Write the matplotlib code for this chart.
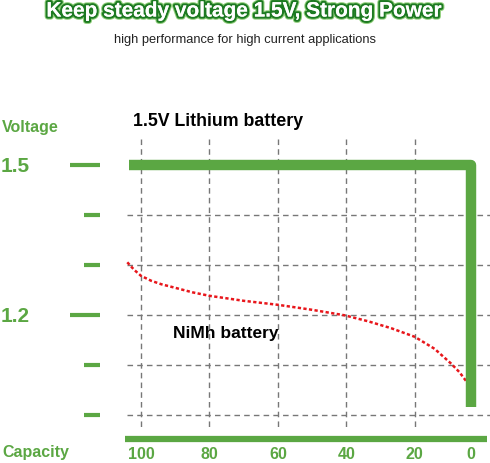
import numpy as np
import matplotlib
matplotlib.use('Agg')
import matplotlib.pyplot as plt
import matplotlib.patheffects as pe

plt.rcParams['font.family'] = ['Liberation Sans', 'DejaVu Sans']

GREEN = '#5ba743'
DARK_GREEN = '#1d7a22'

# data
volt_ticks = [1.5, 1.4, 1.3, 1.2, 1.1, 1.0]
volt_labels = ['1.5', '', '', '1.2', '', '']
cap_grid = [100, 80, 60, 40, 20]
cap_labels = ['100', '80', '60', '40', '20', '0']
cap_label_pos = [100, 80, 60, 40, 20, 3.5]

lith_cap = [103.5, 3.5, 3.5]
lith_v = [1.5, 1.5, 1.017]

nimh_cap = [104, 102, 100, 97, 94, 90, 85, 80, 70, 60, 50, 40.5, 33.6, 26.8,
            20, 14.2, 9.3, 6.9, 4.6]
nimh_v = [1.306, 1.291, 1.279, 1.269, 1.262, 1.255, 1.246, 1.239, 1.229, 1.221,
          1.211, 1.200, 1.188, 1.174, 1.157, 1.133, 1.103, 1.086, 1.065]

fig = plt.figure(figsize=(4.9, 4.64), dpi=100)
ax = fig.add_axes([0, 0, 1, 1])
ax.set_xlim(141.2, -2.0)
ax.set_ylim(0.9046, 1.8326)
ax.axis('off')

# grid
grid_kw = dict(color='#777777', lw=1.0, linestyle=(0, (4, 3)))
for v in volt_ticks[1:]:
    ax.plot([104.1, -2.0], [v, v], **grid_kw)
for c in cap_grid:
    ax.plot([c, c], [1.552, 0.97], **grid_kw)

# left tick marks
for v, lab in zip(volt_ticks, volt_labels):
    x0 = 120.8 if lab else 116.7
    ax.plot([x0, 112], [v, v], color=GREEN, lw=3, solid_capstyle='butt')
    if lab:
        ax.text(141.0, v, lab, color=GREEN, fontsize=15, fontweight='bold',
                ha='left', va='center')
ax.text(140.6, 1.577, 'Voltage', color=GREEN, fontsize=11.5,
        fontweight='bold', ha='left', va='center')

# capacity axis
ax.plot([104.7, -1.2], [0.953, 0.953], color=GREEN, lw=4.5,
        solid_capstyle='butt')
ax.text(140.6, 0.927, 'Capacity', color=GREEN, fontsize=11.5,
        fontweight='bold', ha='left', va='center')
for c, lab in zip(cap_label_pos, cap_labels):
    ax.text(c, 0.924, lab, color=GREEN, fontsize=11.5, fontweight='bold',
            ha='center', va='center')

# curves
ax.plot(nimh_cap, nimh_v, color='#e8161b', lw=1.8, linestyle=(0, (1.3, 0.95)),
        solid_joinstyle='round')
ax.plot(lith_cap, lith_v, color=GREEN, lw=7.5, solid_joinstyle='round',
        solid_capstyle='butt')

ax.text(102.3, 1.589, '1.5V Lithium battery', fontsize=12.8,
        fontweight='bold', ha='left', va='center')
ax.text(90.6, 1.165, 'NiMh battery', fontsize=12.5, fontweight='bold',
        ha='left', va='center')

# titles
fig.text(0.5, 1 - 12 / 464, 'Keep steady voltage 1.5V, Strong Power',
         color='white', fontsize=15, fontweight='bold', ha='center',
         va='center',
         path_effects=[pe.withStroke(linewidth=4.5, foreground='#8fcf7a'),
                       pe.withStroke(linewidth=3, foreground=DARK_GREEN),
                       pe.Normal()])
fig.text(0.5, 1 - 40 / 464, 'high performance for high current applications',
         color='#222222', fontsize=9.3, ha='center', va='center')

fig.savefig('out.png', dpi=100)
